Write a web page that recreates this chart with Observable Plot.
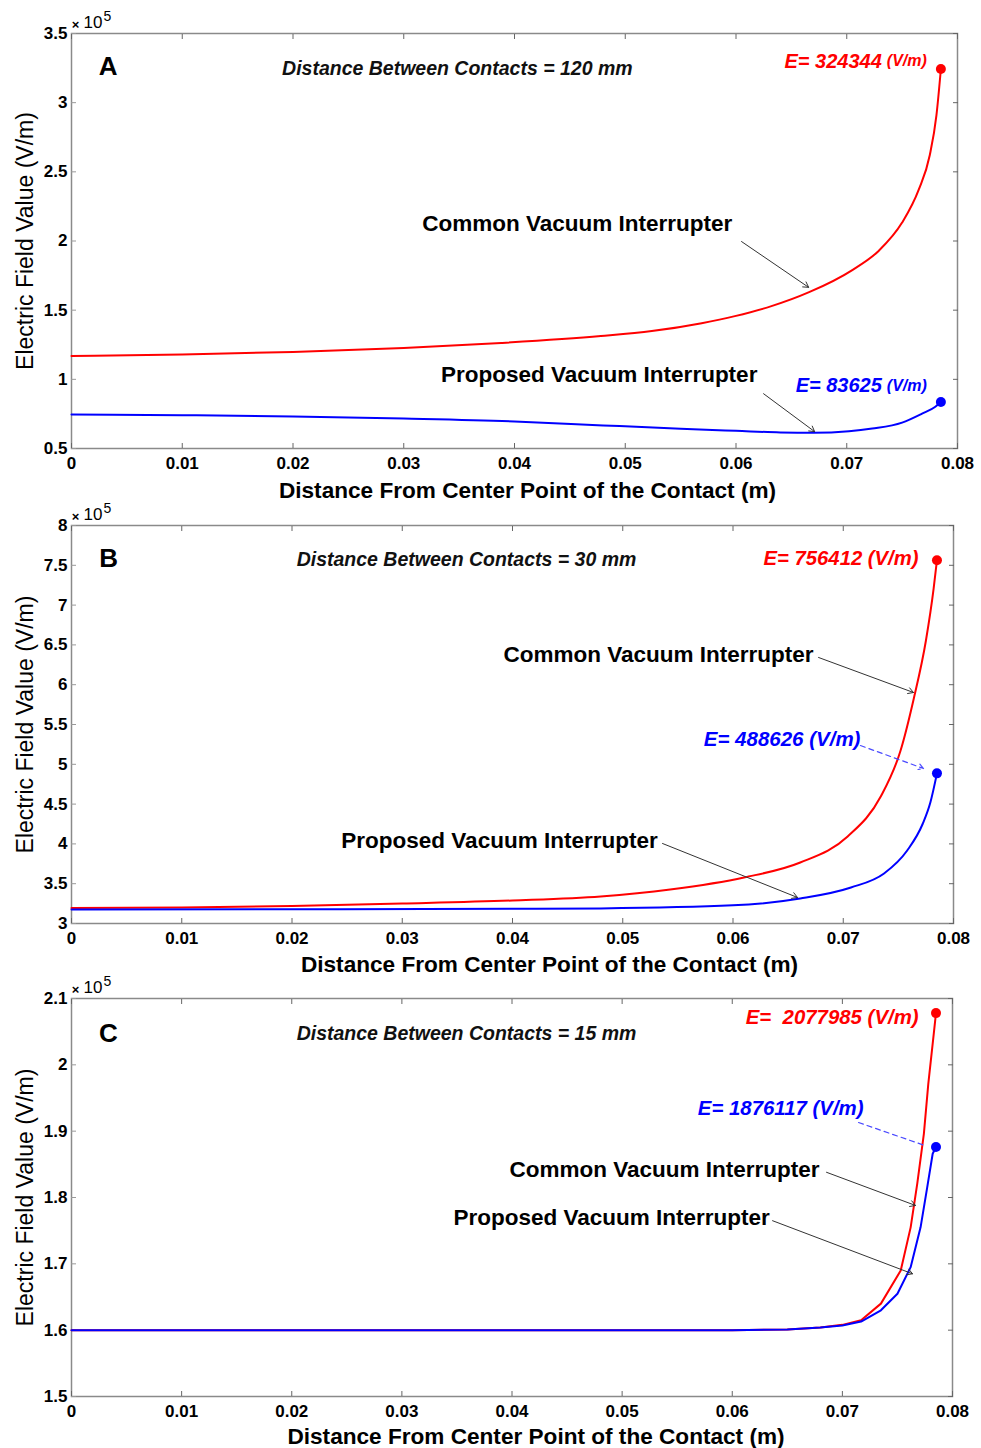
<!DOCTYPE html>
<html><head><meta charset="utf-8">
<script src="https://cdn.jsdelivr.net/npm/d3@7"></script>
<script src="https://cdn.jsdelivr.net/npm/@observablehq/plot@0.6"></script>
<style>
body{margin:0;background:#fff;}
#wrap{position:relative;width:981px;height:1448px;background:#fff;}
.panel{position:absolute;left:0;}
</style></head><body><div id="wrap"></div>
<script>
// ---------- shared axis data ----------
const xTicks = [0, 0.01, 0.02, 0.03, 0.04, 0.05, 0.06, 0.07, 0.08];
const xTickLabels = ["0", "0.01", "0.02", "0.03", "0.04", "0.05", "0.06", "0.07", "0.08"];
const xTitle = "Distance From Center Point of the Contact (m)";
const yTitle = "Electric Field Value (V/m)";
const seriesNames = ["Common Vacuum Interrupter", "Proposed Vacuum Interrupter"];

// ---------- Panel A (120 mm), values in 1e5 V/m ----------
const aYTicks = [0.5, 1, 1.5, 2, 2.5, 3, 3.5];
const aYTickLabels = ["0.5", "1", "1.5", "2", "2.5", "3", "3.5"];
const aCommonX = [0, 0.01, 0.02, 0.03, 0.0388, 0.0478, 0.0524, 0.0569, 0.0599, 0.0632, 0.0666, 0.0705, 0.0729, 0.075, 0.0765, 0.0775, 0.0781, 0.0785];
const aCommonY = [1.169, 1.18, 1.198, 1.227, 1.263, 1.313, 1.349, 1.406, 1.457, 1.529, 1.63, 1.79, 1.93, 2.133, 2.371, 2.622, 2.91, 3.24344];
const aProposedX = [0, 0.01, 0.02, 0.03, 0.04, 0.048, 0.055, 0.06, 0.064, 0.067, 0.0702, 0.0723, 0.075, 0.0768, 0.078, 0.0785];
const aProposedY = [0.745, 0.741, 0.732, 0.716, 0.695, 0.667, 0.643, 0.628, 0.616, 0.613, 0.624, 0.644, 0.687, 0.752, 0.802, 0.836];
const aTitle = "Distance Between Contacts = 120 mm";
const aCommonPeak = "E= 324344";
const aProposedPeak = "E= 83625";

// ---------- Panel B (30 mm) ----------
const bYTicks = [3, 3.5, 4, 4.5, 5, 5.5, 6, 6.5, 7, 7.5, 8];
const bYTickLabels = ["3", "3.5", "4", "4.5", "5", "5.5", "6", "6.5", "7", "7.5", "8"];
const bCommonX = [0, 0.01, 0.02, 0.03, 0.04, 0.048, 0.0543, 0.061, 0.0661, 0.0704, 0.0734, 0.0752, 0.0764, 0.0775, 0.0782, 0.0785];
const bCommonY = [3.195, 3.201, 3.22, 3.251, 3.289, 3.339, 3.427, 3.578, 3.766, 4.093, 4.595, 5.173, 5.827, 6.555, 7.209, 7.56412];
const bProposedX = [0, 0.02, 0.04, 0.048, 0.06, 0.0661, 0.0707, 0.0737, 0.0758, 0.0772, 0.0779, 0.0785];
const bProposedY = [3.175, 3.178, 3.184, 3.19, 3.228, 3.314, 3.452, 3.628, 3.917, 4.25, 4.52, 4.88626];
const bTitle = "Distance Between Contacts = 30 mm";
const bCommonPeak = "E= 756412 (V/m)";
const bProposedPeak = "E= 488626 (V/m)";

// ---------- Panel C (15 mm) ----------
const cYTicks = [1.5, 1.6, 1.7, 1.8, 1.9, 2, 2.1];
const cYTickLabels = ["1.5", "1.6", "1.7", "1.8", "1.9", "2", "2.1"];
const cCommonX = [0, 0.02, 0.04, 0.06, 0.065, 0.068, 0.070, 0.0717, 0.0735, 0.0753, 0.0762, 0.0768, 0.0774, 0.0778, 0.0783, 0.0785];
const cCommonY = [1.6, 1.6, 1.6, 1.6, 1.601, 1.604, 1.608, 1.615, 1.64, 1.69, 1.755, 1.821, 1.896, 1.971, 2.047, 2.077985];
const cProposedX = [0, 0.02, 0.04, 0.06, 0.065, 0.068, 0.070, 0.0717, 0.0735, 0.075, 0.0762, 0.0771, 0.0777, 0.0782, 0.0785];
const cProposedY = [1.6, 1.6, 1.6, 1.6, 1.601, 1.604, 1.607, 1.613, 1.63, 1.655, 1.695, 1.755, 1.815, 1.866, 1.876117];
const cTitle = "Distance Between Contacts = 15 mm";
const cCommonPeak = "E=  2077985 (V/m)";
const cProposedPeak = "E= 1876117 (V/m)";

// ---------- rendering ----------
const RED = "#ff0000", BLUE = "#0000ff";
const FONT = "'Liberation Sans', Arial, Helvetica, sans-serif";
const pts = (xs, ys) => xs.map((x, i) => ({x, y: ys[i]}));
const last = (xs, ys) => [{x: xs[xs.length - 1], y: ys[ys.length - 1]}];

function panel(c) {
  const common = pts(c.commonX, c.commonY), proposed = pts(c.proposedX, c.proposedY);
  const fmt = (ticks, labels) => d => labels[ticks.indexOf(d)];
  const marks = [
    Plot.frame({stroke: "#8a8a8a", strokeWidth: 1.5}),
    Plot.axisX({anchor: "bottom", ticks: xTicks, tickSize: 5, dy: -5, tickFormat: () => "", label: null, stroke: "#666"}),
    Plot.axisX({anchor: "top", ticks: xTicks, tickSize: 5, dy: 5, tickFormat: () => "", label: null, stroke: "#666"}),
    Plot.axisY({anchor: "left", ticks: c.yTicks, tickSize: 5, dx: 5, tickFormat: () => "", label: null, stroke: "#999"}),
    Plot.axisY({anchor: "right", ticks: c.yTicks, tickSize: 5, dx: -5, tickFormat: () => "", label: null, stroke: "#666"}),
    Plot.axisX({anchor: "bottom", ticks: xTicks, tickSize: 0, tickPadding: 8, tickFormat: fmt(xTicks, xTickLabels), label: null, fontSize: 17, fill: "#000"}),
    Plot.axisY({anchor: "left", ticks: c.yTicks, tickSize: 0, tickPadding: 4, tickFormat: fmt(c.yTicks, c.yTickLabels), label: null, fontSize: 17, fill: "#000"}),
    // exponent
    Plot.text(["×"], {frameAnchor: "top-left", dx: 4, dy: -9, fontSize: 13, textAnchor: "middle", lineAnchor: "middle", fill: "#000"}),
    Plot.text(["10"], {frameAnchor: "top-left", dx: 12, dy: -11, fontSize: 17, textAnchor: "start", lineAnchor: "middle", fill: "#000", fontWeight: "normal"}),
    Plot.text(["5"], {frameAnchor: "top-left", dx: 32, dy: -17, fontSize: 14, textAnchor: "start", lineAnchor: "middle", fill: "#000", fontWeight: "normal"}),
    // axis titles
    Plot.text([yTitle], {frameAnchor: "left", rotate: -90, dx: -46, fontSize: 23, textAnchor: "middle", lineAnchor: "middle", fontWeight: "normal", fill: "#000"}),
    Plot.text([xTitle], {frameAnchor: "bottom", dx: c.xTitleDx, dy: c.xTitleDy, fontSize: 22.6, textAnchor: "middle", lineAnchor: "middle", fill: "#000"}),
    // curves
    Plot.line(common, {x: "x", y: "y", stroke: RED, strokeWidth: 2, curve: c.curve}),
    Plot.line(proposed, {x: "x", y: "y", stroke: BLUE, strokeWidth: 2, curve: c.curve}),
    Plot.dot(last(c.commonX, c.commonY), {x: "x", y: "y", r: 5, fill: RED}),
    Plot.dot(last(c.proposedX, c.proposedY), {x: "x", y: "y", r: 5, fill: BLUE}),
    // annotations
    Plot.text([c.letter], {x: c.letterAt[0], y: c.letterAt[1], fontSize: 26, fill: "#000"}),
    Plot.text([c.title], {x: c.titleAt[0], y: c.titleAt[1], fontSize: 19.5, fontStyle: "italic", fill: "#111"}),
    Plot.text([seriesNames[0]], {x: c.commonAt[0], y: c.commonAt[1], fontSize: 22.5, fill: "#000"}),
    Plot.text([seriesNames[1]], {x: c.proposedAt[0], y: c.proposedAt[1], fontSize: 22.5, fill: "#000"}),
    Plot.arrow(c.arrows, {x1: "x1", y1: "y1", x2: "x2", y2: "y2", stroke: "#333", strokeWidth: 1, headLength: 9}),
    ...c.peakMarks
  ];
  return Plot.plot({
    width: 981, height: c.height,
    marginTop: c.mt, marginBottom: c.mb, marginLeft: 71, marginRight: c.mr,
    x: {domain: [0, 0.08]},
    y: {domain: [c.yTicks[0], c.yTicks[c.yTicks.length - 1]]},
    style: {fontFamily: FONT, fontWeight: "bold", background: "white", overflow: "visible"},
    marks
  });
}

const peakText = (txt, at, fill, size, anchor) =>
  Plot.text([txt], {x: at[0], y: at[1], fill, fontSize: size, fontStyle: "italic", textAnchor: anchor});

const panels = [
  {
    top: 0, height: 503, mt: 33, mb: 55, mr: 24, xTitleDx: 13, xTitleDy: 42, curve: "monotone-x",
    yTicks: aYTicks, yTickLabels: aYTickLabels,
    commonX: aCommonX, commonY: aCommonY, proposedX: aProposedX, proposedY: aProposedY,
    letter: "A", letterAt: [0.0033, 3.26], title: aTitle, titleAt: [0.03484, 3.245],
    commonAt: [0.04566, 2.126], proposedAt: [0.04765, 1.032],
    arrows: [{x1: 0.0605, y1: 1.996, x2: 0.06656, y2: 1.665}, {x1: 0.06249, y1: 0.896, x2: 0.0671, y2: 0.622}],
    peakMarks: [
      peakText(aCommonPeak, [0.07317, 3.2986], RED, 20, "end"),
      peakText("(V/m)", [0.07362, 3.2986], RED, 16, "start"),
      peakText(aProposedPeak, [0.07317, 0.953], BLUE, 20, "end"),
      peakText("(V/m)", [0.07362, 0.953], BLUE, 16, "start")
    ]
  },
  {
    top: 503, height: 475, mt: 22, mb: 55, mr: 28, xTitleDx: 37, xTitleDy: 41, curve: "monotone-x",
    yTicks: bYTicks, yTickLabels: bYTickLabels,
    commonX: bCommonX, commonY: bCommonY, proposedX: bProposedX, proposedY: bProposedY,
    letter: "B", letterAt: [0.00336, 7.585], title: bTitle, titleAt: [0.03583, 7.573],
    commonAt: [0.05324, 6.379], proposedAt: [0.03882, 4.043],
    arrows: [{x1: 0.06776, y1: 6.342, x2: 0.07637, y2: 5.902}, {x1: 0.05361, y1: 4.005, x2: 0.06585, y2: 3.327}],
    peakMarks: [
      peakText(bCommonPeak, [0.07683, 7.585], RED, 20.3, "end"),
      peakText(bProposedPeak, [0.07156, 5.312], BLUE, 20.5, "end"),
      Plot.arrow([{x1: 0.07156, y1: 5.236, x2: 0.07728, y2: 4.947}], {x1: "x1", y1: "y1", x2: "x2", y2: "y2", stroke: "#4a4aff", strokeWidth: 1.2, strokeDasharray: "5,4", headLength: 7})
    ]
  },
  {
    top: 978, height: 470, mt: 20, mb: 52, mr: 29, xTitleDx: 24, xTitleDy: 40, curve: "linear",
    yTicks: cYTicks, yTickLabels: cYTickLabels,
    commonX: cCommonX, commonY: cCommonY, proposedX: cProposedX, proposedY: cProposedY,
    letter: "C", letterAt: [0.00336, 2.047], title: cTitle, titleAt: [0.03587, 2.047],
    commonAt: [0.05385, 1.842], proposedAt: [0.04904, 1.770],
    arrows: [{x1: 0.06856, y1: 1.838, x2: 0.07664, y2: 1.788}, {x1: 0.06366, y1: 1.765, x2: 0.07637, y2: 1.685}],
    peakMarks: [
      peakText(cCommonPeak, [0.07692, 2.0714], RED, 20.4, "end"),
      peakText(cProposedPeak, [0.07192, 1.934], BLUE, 20.4, "end"),
      Plot.arrow([{x1: 0.07147, y1: 1.913, x2: 0.07755, y2: 1.878}], {x1: "x1", y1: "y1", x2: "x2", y2: "y2", stroke: "#4a4aff", strokeWidth: 1.2, strokeDasharray: "5,4", headLength: 0})
    ]
  }
];

const wrap = document.getElementById("wrap");
for (const p of panels) {
  const div = document.createElement("div");
  div.className = "panel";
  div.style.top = p.top + "px";
  div.appendChild(panel(p));
  wrap.appendChild(div);
}
</script></body></html>
